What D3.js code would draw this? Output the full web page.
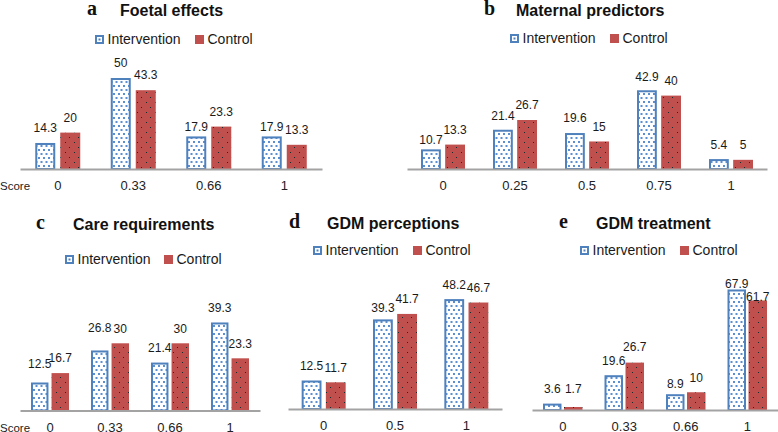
<!DOCTYPE html>
<html><head><meta charset="utf-8">
<script src="https://cdn.jsdelivr.net/npm/d3@7/dist/d3.min.js"></script>
<style>
body{margin:0;background:#fff;}
svg{display:block;font-family:"Liberation Sans",Arial,Helvetica,sans-serif;}
</style></head>
<body>
<svg id="chart" width="778" height="432"></svg>
<script>
// ---- data ----
const seriesNames = ["Intervention", "Control"];
const panelLetters = ["a", "b", "c", "d", "e"];
const panelTitles = ["Foetal effects", "Maternal predictors", "Care requirements", "GDM perceptions", "GDM treatment"];
const catsA = ["0", "0.33", "0.66", "1"];
const intA = [14.3, 50, 17.9, 17.9];
const ctlA = [20, 43.3, 23.3, 13.3];
const catsB = ["0", "0.25", "0.5", "0.75", "1"];
const intB = [10.7, 21.4, 19.6, 42.9, 5.4];
const ctlB = [13.3, 26.7, 15, 40, 5];
const catsC = ["0", "0.33", "0.66", "1"];
const intC = [12.5, 26.8, 21.4, 39.3];
const ctlC = [16.7, 30, 30, 23.3];
const catsD = ["0", "0.5", "1"];
const intD = [12.5, 39.3, 48.2];
const ctlD = [11.7, 41.7, 46.7];
const catsE = ["0", "0.33", "0.66", "1"];
const intE = [3.6, 19.6, 8.9, 67.9];
const ctlE = [1.7, 26.7, 10, 61.7];

// ---- layout (positions / sizes only) ----
const layout = [
  {x0: 20, x1: 322, base: 169, ppu: 1.82, group: 45, inner: 0.2, letterX: 87, titleX: 120, titleY: 16,
   legY: 35, legInt: 95, legCtl: 195, score: true,
   nudgeI: [0, 0, 5, 5], nudgeC: [0, 0, 0, 0]},
  {x0: 407, x1: 767, base: 169, ppu: 1.835, group: 44, inner: 0.18, letterX: 484, titleX: 516, titleY: 16,
   legY: 34, legInt: 510, legCtl: 610, score: false,
   nudgeI: [5, 1, 0, 1, 1], nudgeC: [0, 0, 0, 0, 0]},
  {x0: 20, x1: 260, base: 410.5, ppu: 2.24, group: 38, inner: 0.15, letterX: 36, titleX: 73, titleY: 230,
   legY: 255, legInt: 65, legCtl: 164, score: true,
   nudgeI: [-4, -8, 0, 0], nudgeC: [0, 0, 0, 0]},
  {x0: 288, x1: 502, base: 409, ppu: 2.28, group: 44, inner: 0.18, letterX: 289, titleX: 327, titleY: 229,
   legY: 246, legInt: 313, legCtl: 413, score: false,
   nudgeI: [0, 3, 1, 0], nudgeC: [0, 0, 0, 0]},
  {x0: 532, x1: 778, base: 410, ppu: 1.775, group: 39.5, inner: 0.12, letterX: 559, titleX: 596, titleY: 229,
   legY: 246, legInt: 580, legCtl: 680, score: false,
   nudgeI: [0, 0, 4, 9], nudgeC: [-3, -1, 0, 11]}
];
const panelData = [
  [catsA, intA, ctlA], [catsB, intB, ctlB], [catsC, intC, ctlC], [catsD, intD, ctlD], [catsE, intE, ctlE]
];

const blue = "#4f81bd", blueDot = "#5a8fd2", red = "#c0504d";
const svg = d3.select("#chart");
const defs = svg.append("defs");
const pI = defs.append("pattern").attr("id", "patI").attr("patternUnits", "userSpaceOnUse")
  .attr("width", 5).attr("height", 8);
pI.append("rect").attr("width", 5).attr("height", 8).attr("fill", "#fff");
pI.append("rect").attr("x", 0.5).attr("y", 1).attr("width", 2).attr("height", 2).attr("fill", blueDot);
pI.append("rect").attr("x", 3).attr("y", 5).attr("width", 2).attr("height", 2).attr("fill", blueDot);
const pC = defs.append("pattern").attr("id", "patC").attr("patternUnits", "userSpaceOnUse")
  .attr("width", 9).attr("height", 10);
pC.append("rect").attr("width", 9).attr("height", 10).attr("fill", red);
pC.append("rect").attr("x", 2).attr("y", 2).attr("width", 1).attr("height", 1).attr("fill", "#1d2a2a");
pC.append("rect").attr("x", 6).attr("y", 7).attr("width", 1).attr("height", 1).attr("fill", "#1d2a2a");

panelData.forEach(([cats, iv, cv], p) => {
  const L = layout[p];
  const g = svg.append("g");
  const pad = 1 - L.group / ((L.x1 - L.x0) / cats.length);
  const x = d3.scaleBand().domain(cats).range([L.x0, L.x1]).paddingInner(pad).paddingOuter(pad / 2);
  const xs = d3.scaleBand().domain(seriesNames).range([0, L.group]).paddingInner(L.inner).paddingOuter(0);
  const y = d3.scaleLinear().domain([0, 100]).range([L.base, L.base - 100 * L.ppu]);

  const rows = [];
  cats.forEach((c, i) => {
    rows.push({cat: c, s: "Intervention", v: iv[i], n: L.nudgeI[i]});
    rows.push({cat: c, s: "Control", v: cv[i], n: L.nudgeC[i]});
  });

  // bars
  g.selectAll("rect.bar").data(rows).join("rect")
    .attr("class", "bar")
    .attr("x", d => x(d.cat) + xs(d.s) + (d.s === "Intervention" ? 1 : 0))
    .attr("width", d => xs.bandwidth() - (d.s === "Intervention" ? 2 : 0))
    .attr("y", d => y(d.v) + (d.s === "Intervention" ? 1 : 0))
    .attr("height", d => L.base - y(d.v) - (d.s === "Intervention" ? 1 : 0))
    .attr("fill", d => d.s === "Intervention" ? "url(#patI)" : "url(#patC)")
    .attr("stroke", d => d.s === "Intervention" ? blue : "none")
    .attr("stroke-width", 2);

  // value labels
  g.selectAll("text.val").data(rows).join("text")
    .attr("class", "val")
    .attr("x", d => x(d.cat) + xs(d.s) + xs.bandwidth() / 2)
    .attr("y", d => y(d.v) - 10.7 + d.n)
    .attr("text-anchor", "middle")
    .attr("font-size", 12).attr("fill", "#1a1a1a")
    .text(d => d.v);

  // axis
  const ax = g.append("g").attr("transform", `translate(0,${L.base})`)
    .call(d3.axisBottom(x).tickSize(0).tickSizeOuter(0));
  ax.select(".domain").attr("stroke", "#a3a3a3").attr("stroke-width", 2);
  ax.selectAll(".tick text").attr("y", 21).attr("dy", 0)
    .attr("font-size", 13).attr("fill", "#222")
    .attr("font-family", "Liberation Sans, Arial, sans-serif");
  if (L.score) {
    g.append("text").attr("x", 0).attr("y", L.base + 21).attr("text-anchor", "start")
      .attr("font-size", 11.5).attr("fill", "#222").text("Score");
  }

  // title
  g.append("text").attr("x", L.letterX).attr("y", L.titleY - 1)
    .attr("font-family", "Liberation Serif, Times New Roman, serif").attr("font-weight", "bold")
    .attr("font-size", 20).attr("fill", "#111").text(panelLetters[p]);
  g.append("text").attr("x", L.titleX).attr("y", L.titleY)
    .attr("font-weight", "bold").attr("font-size", 16).attr("fill", "#111").text(panelTitles[p]);

  // legend
  const legX = [L.legInt, L.legCtl];
  seriesNames.forEach((s, k) => {
    const lx = legX[k];
    if (k === 0) {
      g.append("rect").attr("x", lx + 1).attr("y", L.legY + 1).attr("width", 7).attr("height", 7)
        .attr("fill", "#fff").attr("stroke", blue).attr("stroke-width", 2);
      g.append("rect").attr("x", lx + 3.5).attr("y", L.legY + 3.5).attr("width", 2).attr("height", 2).attr("fill", blue);
    } else {
      g.append("rect").attr("x", lx).attr("y", L.legY).attr("width", 9).attr("height", 9).attr("fill", red);
    }
    g.append("text").attr("x", lx + 12.5).attr("y", L.legY + 9.3)
      .attr("font-size", 14).attr("fill", "#1a1a1a").text(s);
  });
});
</script>
</body></html>
